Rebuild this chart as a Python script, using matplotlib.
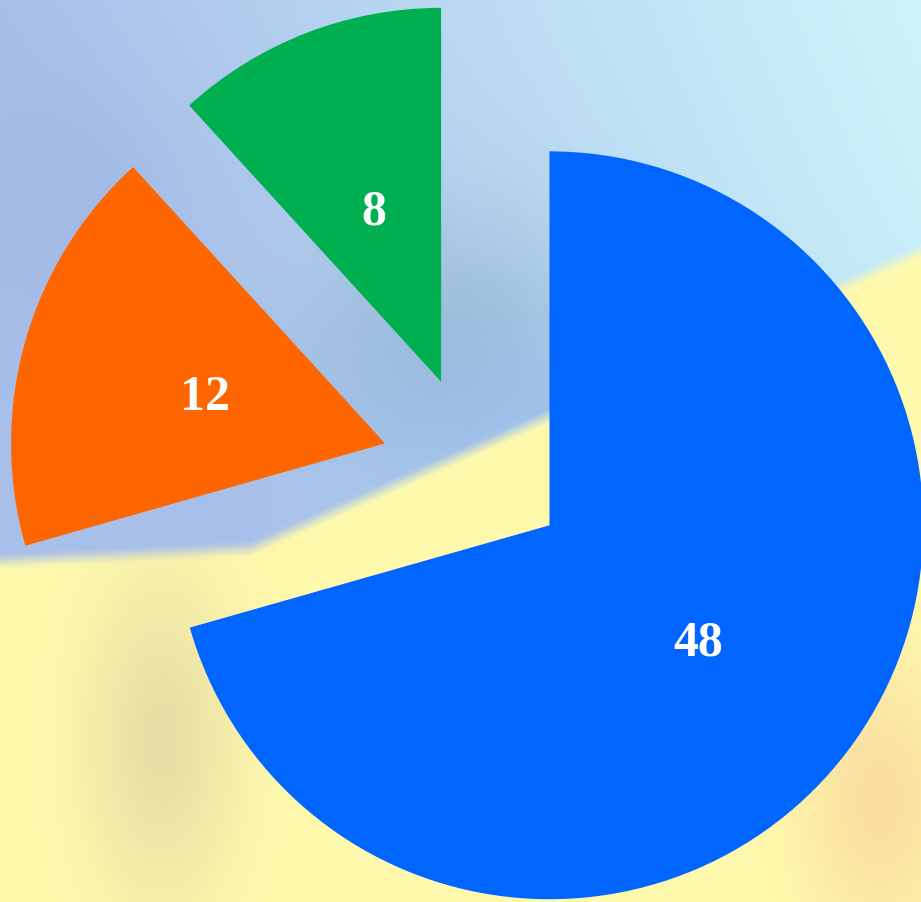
import matplotlib
matplotlib.use("Agg")
import matplotlib.pyplot as plt
import numpy as np

values = [48, 12, 8]
colors = ["#0066FF", "#FF6600", "#00B050"]
explode = [0.25, 0.25, 0.25]

W, H = 921, 902


def blob(xx, yy, cx, cy, sx, sy):
    return np.exp(-(((xx - cx) / sx) ** 2 + ((yy - cy) / sy) ** 2))


def mix(base, tint, w):
    return base * (1 - w) + np.array(tint) * w


def make_background():
    # soft photo-like backdrop: sky on top, yellow field below a tilted edge
    yy, xx = np.mgrid[0:H:4, 0:W:4].astype(float)
    sky_a = np.array([0.66, 0.75, 0.92])
    sky_b = np.array([0.80, 0.96, 0.98])
    t = np.clip(xx / W - yy / H * 0.4, 0, 1)[..., None]
    sky = sky_a * (1 - t) + sky_b * t
    sky = mix(sky, [0.54, 0.68, 0.78], 0.55 * blob(xx, yy, 450, 340, 150, 130)[..., None])
    sky = mix(sky, [0.60, 0.70, 0.85], 0.35 * blob(xx, yy, 60, 200, 150, 120)[..., None])
    sky = mix(sky, [0.56, 0.72, 0.98], 0.45 * blob(xx, yy, 640, 430, 260, 110)[..., None])

    edge = np.where(xx < 250, 548 + (250 - xx) * 0.05, 548 - 0.445 * (xx - 250))
    m = np.clip((yy - edge) / 14 + 0.5, 0, 1)[..., None]
    yellow = np.ones_like(sky) * np.array([1.0, 0.98, 0.68])
    yellow = mix(yellow, [0.80, 0.74, 0.60], 0.45 * blob(xx, yy, 160, 740, 80, 170)[..., None])
    yellow = mix(yellow, [0.95, 0.70, 0.55], 0.4 * blob(xx, yy, 880, 800, 80, 140)[..., None])
    return np.clip(sky * (1 - m) + yellow * m, 0, 1)


fig = plt.figure(figsize=(W / 100, H / 100), dpi=100)
bg_ax = fig.add_axes([0, 0, 1, 1])
bg_ax.imshow(make_background(), aspect="auto", interpolation="bilinear")
bg_ax.axis("off")

ax = fig.add_axes([0, 0, 1, 1])
ax.patch.set_alpha(0)
total = sum(values)
wedges, texts, autotexts = ax.pie(
    values, colors=colors, explode=explode, startangle=90,
    counterclock=False, radius=1, pctdistance=0.5,
    autopct=lambda p: f"{p * total / 100:.0f}",
    wedgeprops=dict(linewidth=0),
    textprops=dict(color="white", fontsize=36, fontweight="bold",
                   family="Liberation Serif"))
for t in autotexts:
    t.set_va("center_baseline")
ax.set_xlim(-1.270, 1.193)
ax.set_ylim(-1.158, 1.254)
ax.axis("off")

fig.savefig("out.png", dpi=100)
